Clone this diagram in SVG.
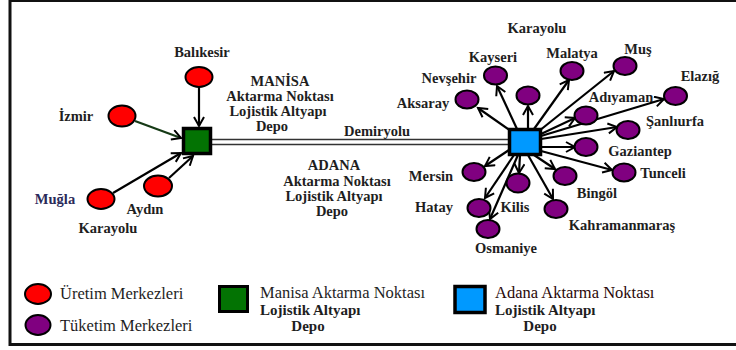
<svg xmlns="http://www.w3.org/2000/svg" width="736" height="350" viewBox="0 0 736 350">
<style>
text{font-family:"Liberation Serif","DejaVu Serif","Times New Roman",serif}
.lbl{font-weight:bold;font-size:14.5px;fill:#1e1e1e;text-anchor:middle}
.leg{font-size:16.5px;fill:#1e1e1e}
.legb{font-weight:bold;font-size:15px;fill:#1e1e1e}
.prod{fill:#ff0000;stroke:#000;stroke-width:2}
.cons{fill:#800080;stroke:#000;stroke-width:2}
.arr{stroke:#000;stroke-width:2.2;fill:none;marker-end:url(#ah)}
</style>
<defs>
<marker id="ah" markerUnits="userSpaceOnUse" markerWidth="14" markerHeight="14" refX="10" refY="6" orient="auto">
<path d="M1,1 L10,6 L1,11" fill="none" stroke="#000" stroke-width="2"/>
</marker>
</defs>
<rect x="0" y="0" width="736" height="350" fill="#fff"/>
<rect id="frame" x="10" y="0.5" width="740" height="344" fill="none" stroke="#111" stroke-width="3"/>

<g id="connectors">
<line x1="212" y1="139.5" x2="509" y2="139.5" stroke="#333" stroke-width="1.5"/>
<line x1="212" y1="144.5" x2="509" y2="144.5" stroke="#333" stroke-width="1.5"/>
<line class="arr" x1="199" y1="87" x2="199" y2="126"/>
<line class="arr" x1="135" y1="121" x2="181" y2="138" style="stroke:#163a16"/>
<line class="arr" x1="113" y1="193" x2="181" y2="153"/>
<line class="arr" x1="169" y1="178" x2="193" y2="156"/>
<line class="arr" x1="517" y1="129" x2="497" y2="86"/>
<line class="arr" x1="528" y1="129" x2="528" y2="106"/>
<line class="arr" x1="511" y1="131" x2="478" y2="108"/>
<line class="arr" x1="534" y1="129" x2="569" y2="80"/>
<line class="arr" x1="539" y1="131" x2="614" y2="71"/>
<line class="arr" x1="541" y1="136" x2="664" y2="99"/>
<line class="arr" x1="541" y1="134" x2="575" y2="118"/>
<line class="arr" x1="541" y1="139" x2="617" y2="127"/>
<line class="arr" x1="541" y1="147" x2="575" y2="147"/>
<line class="arr" x1="541" y1="151" x2="612" y2="170"/>
<line class="arr" x1="534" y1="155" x2="555" y2="169"/>
<line class="arr" x1="528" y1="155" x2="553" y2="199"/>
<line class="arr" x1="520" y1="155" x2="519" y2="173"/>
<line class="arr" x1="509" y1="150" x2="485" y2="166"/>
<line class="arr" x1="514" y1="155" x2="485" y2="198"/>
<line class="arr" x1="518" y1="155" x2="490" y2="219"/>
</g>

<g id="manisa"><rect x="183.5" y="128.5" width="27" height="25" fill="#037303" stroke="#000" stroke-width="3.5"/></g>
<g id="adana"><rect x="509.5" y="129.5" width="31" height="25" fill="#0099ff" stroke="#000" stroke-width="3.5"/></g>

<g id="balikesir"><ellipse class="prod" cx="199" cy="77" rx="13.5" ry="10"/><text class="lbl" x="202" y="57">Balıkesir</text></g>
<g id="izmir"><ellipse class="prod" cx="122" cy="116" rx="13.5" ry="10.5"/><text class="lbl" x="76" y="121">İzmir</text></g>
<g id="mugla"><ellipse class="prod" cx="101" cy="199" rx="13.5" ry="10"/><text class="lbl" x="55" y="204" style="fill:#2a2a5a">Muğla</text></g>
<g id="aydin"><ellipse class="prod" cx="158" cy="186" rx="14" ry="10.5"/><text class="lbl" x="145" y="214">Aydın</text></g>

<g id="manisa-label">
<text class="lbl" x="280" y="86">MANİSA</text>
<text class="lbl" x="280" y="101">Aktarma Noktası</text>
<text class="lbl" x="278" y="116">Lojistik Altyapı</text>
<text class="lbl" x="272" y="131">Depo</text>
</g>
<g id="adana-label">
<text class="lbl" x="334" y="170">ADANA</text>
<text class="lbl" x="337" y="186">Aktarma Noktası</text>
<text class="lbl" x="334" y="201">Lojistik Altyapı</text>
<text class="lbl" x="332" y="216">Depo</text>
</g>
<text class="lbl" x="377" y="136">Demiryolu</text>
<text class="lbl" x="108" y="233">Karayolu</text>
<text class="lbl" x="537" y="33">Karayolu</text>

<g id="kayseri"><ellipse class="cons" cx="495.5" cy="75.5" rx="11.5" ry="9"/><text class="lbl" x="493" y="62">Kayseri</text></g>
<g id="nevsehir"><ellipse class="cons" cx="528" cy="95.5" rx="11.5" ry="9"/><text class="lbl" x="449" y="83">Nevşehir</text></g>
<g id="aksaray"><ellipse class="cons" cx="467" cy="99.5" rx="11.5" ry="9"/><text class="lbl" x="423" y="108">Aksaray</text></g>
<g id="malatya"><ellipse class="cons" cx="572" cy="71" rx="11.5" ry="9"/><text class="lbl" x="572" y="58">Malatya</text></g>
<g id="mus"><ellipse class="cons" cx="625" cy="66" rx="11.5" ry="9"/><text class="lbl" x="638" y="54">Muş</text></g>
<g id="elazig"><ellipse class="cons" cx="675.5" cy="96" rx="11.5" ry="9"/><text class="lbl" x="700" y="81">Elazığ</text></g>
<g id="adiyaman"><ellipse class="cons" cx="586" cy="115.5" rx="11.5" ry="9"/><text class="lbl" x="621" y="102">Adıyaman</text></g>
<g id="sanliurfa"><ellipse class="cons" cx="628" cy="130" rx="11.5" ry="9"/><text class="lbl" x="675" y="126">Şanlıurfa</text></g>
<g id="gaziantep"><ellipse class="cons" cx="586" cy="147" rx="11.5" ry="9"/><text class="lbl" x="640" y="156">Gaziantep</text></g>
<g id="tunceli"><ellipse class="cons" cx="624" cy="172.5" rx="11.5" ry="9"/><text class="lbl" x="663" y="178">Tunceli</text></g>
<g id="bingol"><ellipse class="cons" cx="565" cy="176" rx="11.5" ry="9"/><text class="lbl" x="597" y="198">Bingöl</text></g>
<g id="kahramanmaras"><ellipse class="cons" cx="556" cy="209" rx="11.5" ry="9"/><text class="lbl" x="622" y="230">Kahramanmaraş</text></g>
<g id="kilis"><ellipse class="cons" cx="518" cy="183" rx="11.5" ry="9.5"/><text class="lbl" x="515" y="212">Kilis</text></g>
<g id="mersin"><ellipse class="cons" cx="474" cy="172" rx="11.5" ry="9"/><text class="lbl" x="431" y="181">Mersin</text></g>
<g id="hatay"><ellipse class="cons" cx="479" cy="208" rx="11.5" ry="9"/><text class="lbl" x="434" y="212">Hatay</text></g>
<g id="osmaniye"><ellipse class="cons" cx="488" cy="229" rx="11.5" ry="9"/><text class="lbl" x="506" y="253">Osmaniye</text></g>

<g id="legend">
<ellipse class="prod" cx="38" cy="294" rx="13" ry="10"/>
<text class="leg" x="60" y="299">Üretim Merkezleri</text>
<ellipse class="cons" cx="38" cy="325" rx="12.5" ry="10"/>
<text class="leg" x="60" y="331">Tüketim Merkezleri</text>
<rect x="219.5" y="286.5" width="28" height="25" fill="#037303" stroke="#000" stroke-width="3"/>
<text class="leg" x="260" y="298">Manisa Aktarma Noktası</text>
<text class="legb" x="260" y="315">Lojistik Altyapı</text>
<text class="legb" x="308" y="331" text-anchor="middle">Depo</text>
<rect x="455" y="286.5" width="30" height="26" fill="#0099ff" stroke="#000" stroke-width="3.5"/>
<text class="leg" x="495" y="298" style="fill:#2a0808">Adana Aktarma Noktası</text>
<text class="legb" x="495" y="315">Lojistik Altyapı</text>
<text class="legb" x="540" y="331" text-anchor="middle">Depo</text>
</g>
</svg>
